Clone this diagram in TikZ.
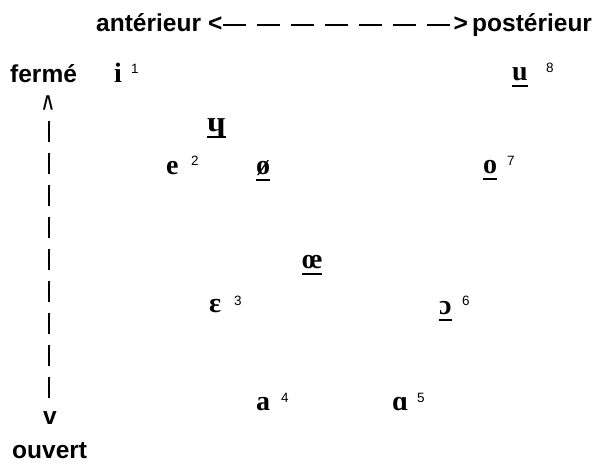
\documentclass[tikz,border=0pt]{standalone}
\usepackage{fontspec}
\usepackage{graphicx}
\setmainfont{Liberation Serif}
\newfontfamily\labfont{Liberation Sans}
% soulignement des voyelles
\newcommand{\soul}[1]{\setbox0\hbox{#1}\rlap{\rule[-7pt]{\wd0}{1.9pt}}\box0}

\tikzset{
  axe/.style={font=\labfont\bfseries\fontsize{24.5}{28}\selectfont, inner sep=0pt, anchor=base west},
  voy/.style={font=\bfseries\fontsize{28}{32}\selectfont, inner sep=0pt, anchor=base west},
  num/.style={font=\labfont\fontsize{13.5}{16}\selectfont, inner sep=0pt, anchor=base west}
}

\begin{document}
\begin{tikzpicture}[x=1pt,y=-1pt]

      \useasboundingbox (0,0) rectangle (593,464);

      \begin{scope}[every node/.style={axe}]
        \node (ant)  at (96,31)  {antérieur};
        \node (lt)   at (208,31) {<};
        \node[anchor=base east] (gt) at (468,31) {>};
        \node (post) at (472,31) {postérieur};
        \node (ferm) at (10,82)  {fermé};
        \node (ouv)  at (12,458) {ouvert};
        \node[anchor=base] (haut) at (48,118)
          {\scalebox{0.75}[1.35]{\textasciicircum}};
        \node[anchor=base] (bas) at (50,424) {v};
      \end{scope}

      \coordinate (vh) at (49,121);
      \coordinate (vb) at (49,398);

      \draw[line width=2.2pt, dash pattern=on 23pt off 11pt]
        ([yshift=6pt]lt.base east) -- ([yshift=6pt]gt.base west);
      \draw[line width=2.7pt, dash pattern=on 21pt off 11pt] (vh) -- (vb);

      \begin{scope}[every node/.style={voy}]
        \node (i)  at (114,82)  {i};
        \node (u)  at (512,80)  {\soul{u}};
        \node (y)  at (207,131) {\soul{\scalebox{1.2}[1]{ɥ}}};
        \node (e)  at (166,174) {e};
        \node (oe) at (256,174) {\soul{ø}};
        \node (o)  at (483,173) {\soul{o}};
        \node (ce) at (302,268) {\soul{œ}};
        \node (E)  at (209,312) {ɛ};
        \node (O)  at (439,314) {\soul{ɔ}};
        \node (a)  at (256,410) {a};
        \node (A)  at (392,410) {ɑ};
      \end{scope}

      \begin{scope}[every node/.style={num}]
        \node (n1) at (131,73)  {1};
        \node (n8) at (546,72)  {8};
        \node (n2) at (191,165) {2};
        \node (n7) at (507,165) {7};
        \node (n3) at (234,305) {3};
        \node (n6) at (462,305) {6};
        \node (n4) at (281,402) {4};
        \node (n5) at (417,402) {5};
      \end{scope}

    \end{tikzpicture}
\end{document}
